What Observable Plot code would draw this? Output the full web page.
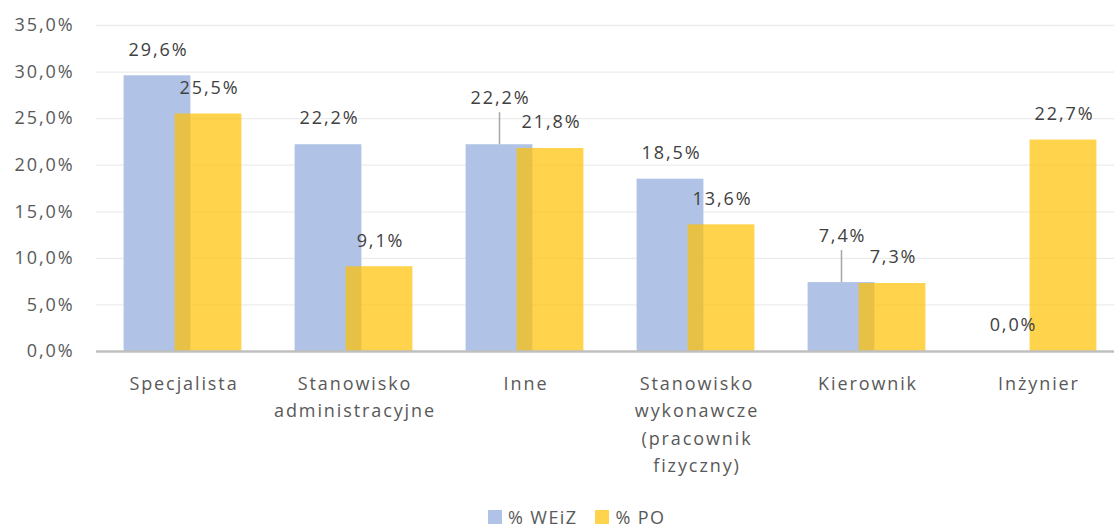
<!DOCTYPE html>
<html><head><meta charset="utf-8">
<script src="https://cdn.jsdelivr.net/npm/d3@7"></script>
<script src="https://cdn.jsdelivr.net/npm/@observablehq/plot@0.6"></script>
<style>
body{margin:0;background:#fff;font-family:"Open Sans",sans-serif;}
#wrap{position:relative;width:1114px;height:531px;overflow:hidden;}
#wrap svg{position:absolute;left:0;top:0;}
.leg{position:absolute;top:506px;left:488px;display:flex;align-items:center;font-size:18px;line-height:22px;color:#595959;white-space:nowrap;letter-spacing:1.4px;}
.sw{width:14px;height:14px;display:inline-block;margin-right:6px;}
.item{display:flex;align-items:center;margin-right:18px;}
</style></head><body><div id="wrap"></div>
<script>
const categories = ["Specjalista", "Stanowisko administracyjne", "Inne", "Stanowisko wykonawcze (pracownik fizyczny)", "Kierownik", "Inżynier"];
const tickLabels = ["Specjalista", "Stanowisko\nadministracyjne", "Inne", "Stanowisko\nwykonawcze\n(pracownik\nfizyczny)", "Kierownik", "Inżynier"];
const weiz = [29.6, 22.2, 22.2, 18.5, 7.4, 0.0];
const po = [25.5, 9.1, 21.8, 13.6, 7.3, 22.7];
const seriesNames = ["% WEiZ", "% PO"];
const seriesColors = ["#B0C3E6", "#FFC000"];
const leaderWeiz = ["Inne", "Kierownik"];
const yTicks = [0, 5, 10, 15, 20, 25, 30, 35];

const fmt = v => v.toFixed(1).replace(".", ",") + "%";
const weizRows = categories.map((c, i) => ({cat: c, v: weiz[i]}));
const poRows = categories.map((c, i) => ({cat: c, v: po[i]}));

const W = 1114, H = 505, plotTop = 25, plotBase = 351;
const pxPerPct = (plotBase - plotTop) / 35;

const chart = Plot.plot({
  width: W, height: H,
  marginTop: plotTop, marginBottom: H - plotBase, marginLeft: 96, marginRight: 0,
  style: {fontFamily: "'Open Sans', sans-serif", fontSize: "18px", color: "#595959", background: "transparent", letterSpacing: "1.9px"},
  x: {domain: categories, range: [96.4, 1123.6], padding: 0},
  y: {domain: [0, 35], range: [plotBase, plotTop]},
  marks: [
    Plot.gridY(yTicks.slice(1), {stroke: "#ececec", strokeOpacity: 1, strokeWidth: 1.3}),
    Plot.barY(weizRows, {x: "cat", y: "v", fill: seriesColors[0], insetLeft: 26.6, insetRight: 77.6}),
    Plot.barY(poRows, {x: "cat", y: "v", fill: seriesColors[1], fillOpacity: 0.7, insetLeft: 77.6, insetRight: 26.6}),
    Plot.ruleY([0], {stroke: "#bfbfbf", strokeWidth: 2.5}),
    Plot.ruleX(weizRows.filter(d => leaderWeiz.includes(d.cat)), {x: "cat", y1: "v", y2: d => d.v + 32 / pxPerPct, dx: -25.5, stroke: "#a6a6a6", strokeWidth: 1.5}),
    Plot.text(weizRows.filter(d => !leaderWeiz.includes(d.cat)), {x: "cat", y: "v", text: d => fmt(d.v), dx: -24.5, dy: -26, fill: "#404040", fontSize: 18}),
    Plot.text(weizRows.filter(d => leaderWeiz.includes(d.cat)), {x: "cat", y: "v", text: d => fmt(d.v), dx: -24.5, dy: -46, fill: "#404040", fontSize: 18}),
    Plot.text(poRows, {x: "cat", y: "v", text: d => fmt(d.v), dx: 26.5, dy: -26, fill: "#404040", fontSize: 18}),
    Plot.axisY({ticks: yTicks, tickSize: 0, tickPadding: 22, tickFormat: fmt, fontSize: 18, label: null}),
    Plot.axisX({tickSize: 0, tickPadding: 19, fontSize: 18, lineHeight: 1.52, label: null, dx: 1, tickFormat: d => tickLabels[categories.indexOf(d)]})
  ]
});
const wrap = document.getElementById("wrap");
wrap.appendChild(chart);
const leg = document.createElement("div");
leg.className = "leg";
seriesNames.forEach((n, i) => {
  const it = document.createElement("span");
  it.className = "item";
  it.innerHTML = `<span class="sw" style="background:${seriesColors[i]};opacity:${i ? 0.7 : 1}"></span>${n}`;
  leg.appendChild(it);
});
wrap.appendChild(leg);
</script></body></html>
